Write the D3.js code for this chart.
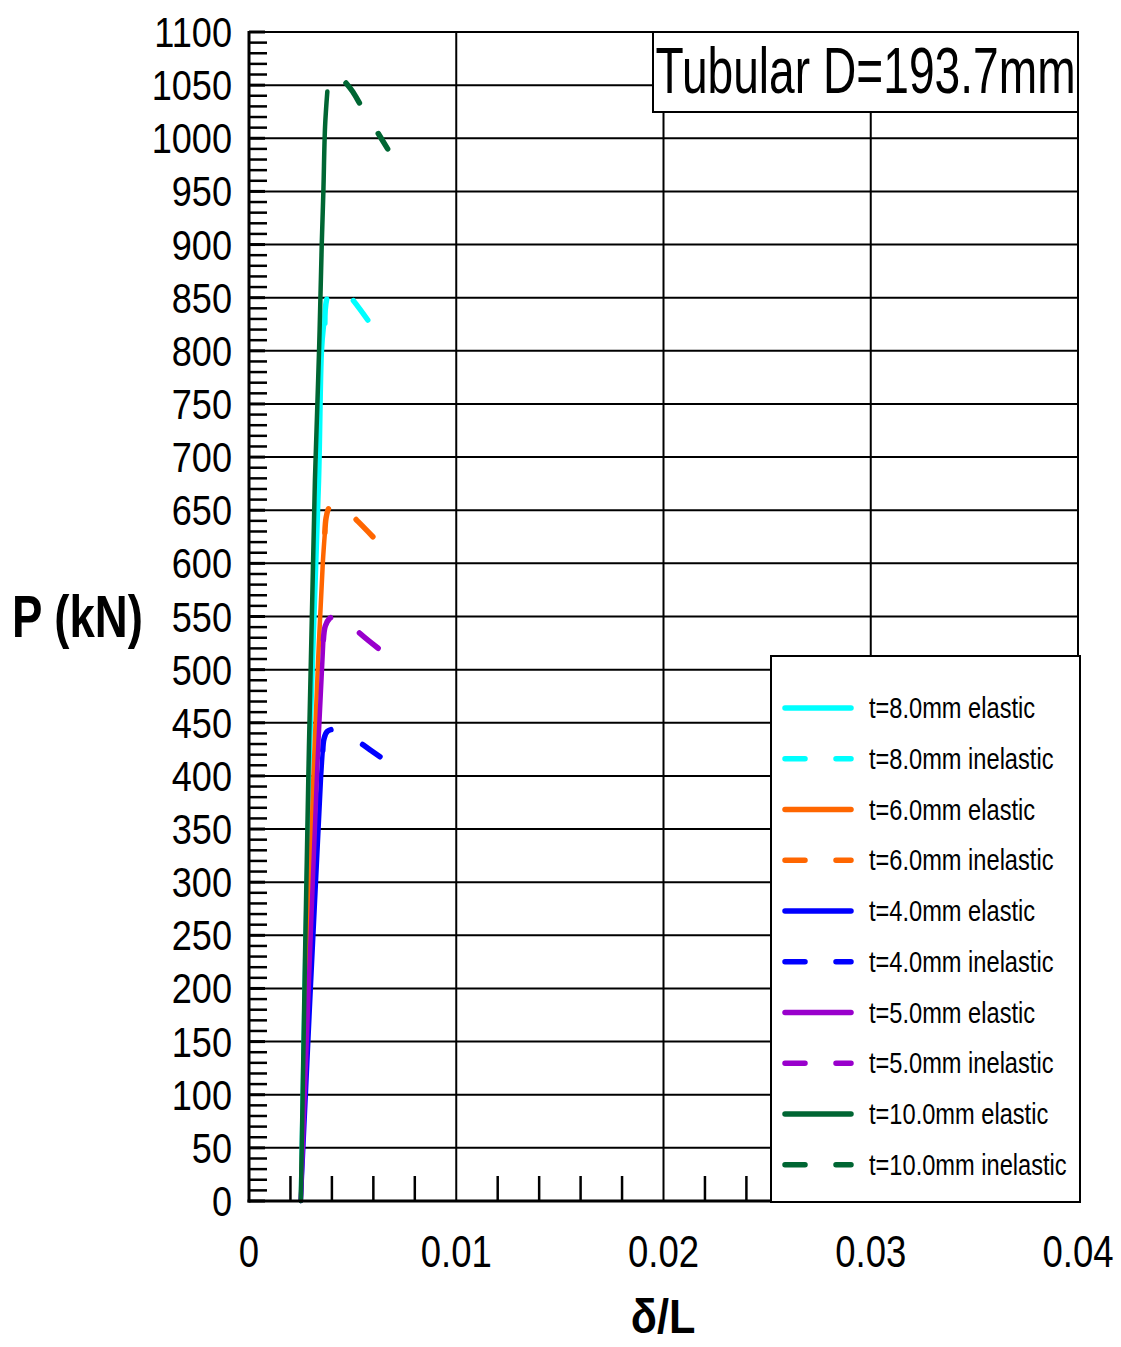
<!DOCTYPE html>
<html>
<head>
<meta charset="utf-8">
<script src="https://cdn.jsdelivr.net/npm/d3@7"></script>
<style>
  html, body { margin: 0; padding: 0; background: #fff; }
  text { font-family: "Liberation Sans", Arial, sans-serif; fill: #000; }
</style>
</head>
<body>
<svg id="chart" width="1121" height="1347"></svg>
<script>
// Load–deflection (P vs δ/L) curves for tubular members, D = 193.7 mm
const xTickValues = [0, 0.01, 0.02, 0.03, 0.04];
const xTickLabels = ["0", "0.01", "0.02", "0.03", "0.04"];
const yTickValues = [0, 50, 100, 150, 200, 250, 300, 350, 400, 450, 500, 550,
                     600, 650, 700, 750, 800, 850, 900, 950, 1000, 1050, 1100];
const yTickLabels = yTickValues.map(String);

// [δ/L, P (kN)]
const t8Elastic   = [[0.0025, 0], [0.0029, 396], [0.00338, 678], [0.00352, 800], [0.00362, 824]];
const t8Inelastic = [[0.00366, 826], [0.00381, 852], [0.0042, 858], [0.0047, 854], [0.00496, 849], [0.00573, 829]];
const t6Elastic   = [[0.0025, 0], [0.0031, 396], [0.00336, 520], [0.00356, 600], [0.00367, 631]];
const t6Inelastic = [[0.00366, 629], [0.00372, 643], [0.00385, 652], [0.00405, 656], [0.0045, 654], [0.00528, 639], [0.00608, 623]];
const t4Elastic   = [[0.0025, 0], [0.00347, 396], [0.00356, 424]];
const t4Inelastic = [[0.00356, 424], [0.00362, 435], [0.00378, 442], [0.0042, 444], [0.0048, 439], [0.00552, 429], [0.00632, 418]];
const t5Elastic   = [[0.0025, 0], [0.00327, 396], [0.00359, 528]];
const t5Inelastic = [[0.00359, 528], [0.00368, 541], [0.00388, 548], [0.00415, 550.5], [0.0045, 550], [0.0049, 543], [0.00536, 534], [0.00624, 520]];
const t10Elastic   = [[0.0025, 0], [0.00286, 396], [0.00318, 678], [0.00338, 800], [0.00351, 900], [0.00359, 951], [0.00367, 1011], [0.00378, 1044]];
const t10Inelastic = [[0.00468, 1052], [0.0050, 1044], [0.0054, 1031], [0.0060, 1012], [0.00669, 990]];

const seriesNames  = ["t=8.0mm elastic", "t=8.0mm inelastic", "t=6.0mm elastic", "t=6.0mm inelastic",
                      "t=4.0mm elastic", "t=4.0mm inelastic", "t=5.0mm elastic", "t=5.0mm inelastic",
                      "t=10.0mm elastic", "t=10.0mm inelastic"];
const seriesData   = [t8Elastic, t8Inelastic, t6Elastic, t6Inelastic, t4Elastic, t4Inelastic,
                      t5Elastic, t5Inelastic, t10Elastic, t10Inelastic];
const seriesColors = ["#00FFFF", "#00FFFF", "#FF6600", "#FF6600", "#0000FF", "#0000FF",
                      "#9900CC", "#9900CC", "#006633", "#006633"];
const seriesDashed = [false, true, false, true, false, true, false, true, false, true];

const titleText = "Tubular D=193.7mm";

const svg = d3.select("#chart");
const plotLeft = 249, plotRight = 1078, plotTop = 32, plotBottom = 1201;
const x = d3.scaleLinear().domain([0, 0.04]).range([plotLeft, plotRight]);
const y = d3.scaleLinear().domain([0, 1100]).range([plotBottom, plotTop]);

const PLOT_DASH = "24,36";
const KEY_DASH = "20,31";

// text helper: condensed lettering via horizontal scaling
function label(parent, px, py, str, o) {
  return parent.append("text")
    .attr("transform", `translate(${px},${py}) scale(${o.sx},1)`)
    .attr("text-anchor", o.anchor || "start")
    .style("font-size", o.size + "px")
    .style("font-weight", o.weight || "normal")
    .text(str);
}

// grid
const grid = svg.append("g");
grid.selectAll("line.h").data(yTickValues.filter(v => v > 0 && v < 1100)).join("line")
  .attr("x1", plotLeft).attr("x2", plotRight)
  .attr("y1", d => y(d)).attr("y2", d => y(d))
  .attr("stroke", "#000").attr("stroke-width", 2);
grid.selectAll("line.v").data(xTickValues.filter(v => v > 0 && v < 0.04)).join("line")
  .attr("x1", d => x(d)).attr("x2", d => x(d))
  .attr("y1", plotTop).attr("y2", plotBottom)
  .attr("stroke", "#000").attr("stroke-width", 2);

// minor ticks on the y axis (every 10 kN) and x axis (every 0.002)
const yMinor = d3.range(0, 1101, 10).filter(v => v % 50 !== 0);
svg.append("g").selectAll("line").data(yMinor).join("line")
  .attr("x1", plotLeft).attr("x2", plotLeft + 18)
  .attr("y1", d => y(d)).attr("y2", d => y(d))
  .attr("stroke", "#000").attr("stroke-width", 2.5);
svg.append("g").selectAll("line").data(yTickValues).join("line")
  .attr("x1", plotLeft).attr("x2", plotLeft + 16)
  .attr("y1", d => y(d)).attr("y2", d => y(d))
  .attr("stroke", "#000").attr("stroke-width", 3);
const xMinor = d3.range(1, 20).map(i => i * 0.002).filter((v, i) => (i + 1) % 5 !== 0);
svg.append("g").selectAll("line").data(xMinor).join("line")
  .attr("x1", d => x(d)).attr("x2", d => x(d))
  .attr("y1", plotBottom).attr("y2", plotBottom - 25)
  .attr("stroke", "#000").attr("stroke-width", 2.5);

// curves
const line = d3.line().x(d => x(d[0])).y(d => y(d[1])).curve(d3.curveCatmullRom.alpha(0.5));
const curves = svg.append("g");
seriesData.forEach((data, i) => {
  curves.append("path")
    .attr("d", line(data))
    .attr("fill", "none")
    .attr("stroke", seriesColors[i])
    .attr("stroke-width", seriesDashed[i] ? 5.5 : 4.5)
    .attr("stroke-linecap", "round")
    .attr("stroke-linejoin", "round")
    .attr("stroke-dasharray", seriesDashed[i] ? PLOT_DASH : null);
});

// frame
svg.append("rect")
  .attr("x", plotLeft).attr("y", plotTop)
  .attr("width", plotRight - plotLeft).attr("height", plotBottom - plotTop)
  .attr("fill", "none").attr("stroke", "#000").attr("stroke-width", 2);
svg.append("line").attr("x1", plotLeft).attr("x2", plotLeft).attr("y1", plotTop - 1).attr("y2", plotBottom + 1.5)
  .attr("stroke", "#000").attr("stroke-width", 3);
svg.append("line").attr("x1", plotLeft - 1.5).attr("x2", plotRight + 1).attr("y1", plotBottom).attr("y2", plotBottom)
  .attr("stroke", "#000").attr("stroke-width", 3);

// tick labels
const yl = svg.append("g");
yTickValues.forEach((v, i) => label(yl, 232, y(v) + 15, yTickLabels[i], { size: 42, sx: 0.86, anchor: "end" }));
const xl = svg.append("g");
xTickValues.forEach((v, i) => label(xl, x(v), 1267, xTickLabels[i], { size: 44, sx: 0.83, anchor: "middle" }));

// axis titles
label(svg, 12, 637, "P (kN)", { size: 60, sx: 0.76, weight: "bold" });
label(svg, 663, 1333, "δ/L", { size: 48, sx: 0.9, weight: "bold", anchor: "middle" });

// title box
const tb = svg.append("g");
tb.append("rect").attr("x", 653).attr("y", 32).attr("width", 425).attr("height", 80)
  .attr("fill", "#fff").attr("stroke", "#000").attr("stroke-width", 2);
label(tb, 865.5, 93, titleText, { size: 65, sx: 0.71, anchor: "middle" });

// legend
const lg = svg.append("g");
lg.append("rect").attr("x", 771).attr("y", 656).attr("width", 309).attr("height", 546)
  .attr("fill", "#fff").attr("stroke", "#000").attr("stroke-width", 2);
seriesNames.forEach((name, i) => {
  const ry = 708 + i * 50.75;
  lg.append("line")
    .attr("x1", 785).attr("x2", 851).attr("y1", ry).attr("y2", ry)
    .attr("stroke", seriesColors[i]).attr("stroke-width", 5.5)
    .attr("stroke-linecap", "round")
    .attr("stroke-dasharray", seriesDashed[i] ? KEY_DASH : null);
  label(lg, 869, ry + 10, name, { size: 29, sx: 0.815 });
});
</script>
</body>
</html>
